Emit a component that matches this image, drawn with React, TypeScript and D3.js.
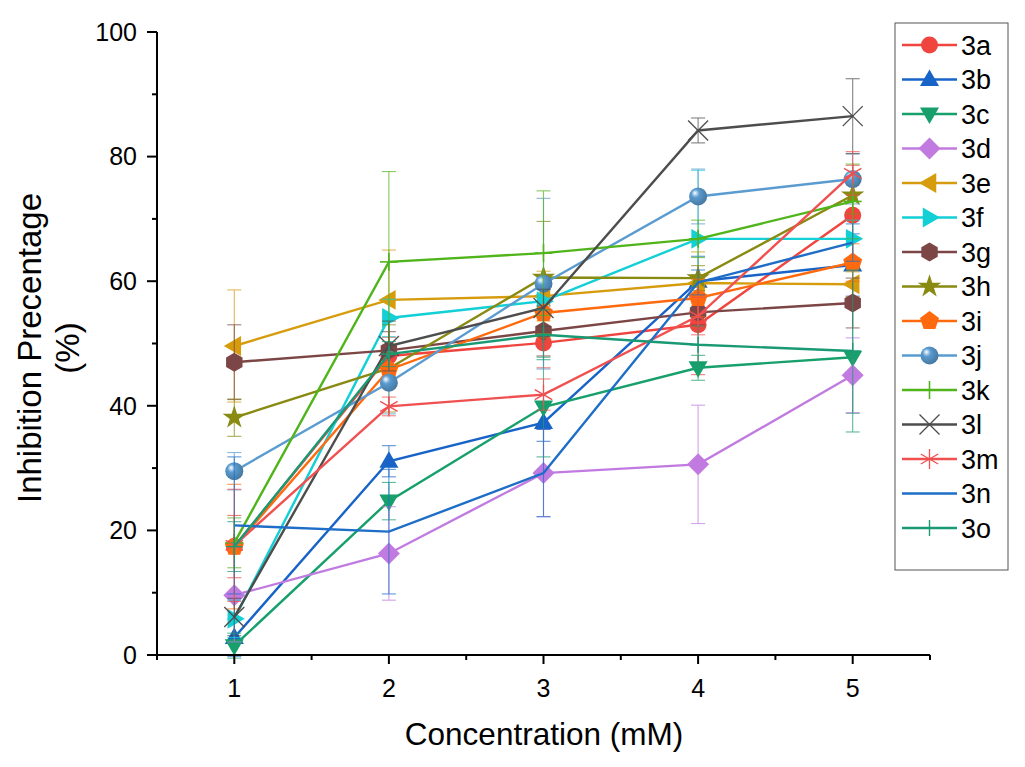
import React from "react";
import * as d3 from "d3";

// ---------- data ----------
const concentrations = [1, 2, 3, 4, 5];
const seriesNames = ["3a", "3b", "3c", "3d", "3e", "3f", "3g", "3h", "3i", "3j", "3k", "3l", "3m", "3n", "3o"];

const values3a = [17.4, 48.0, 50.1, 53.0, 70.6];
const values3b = [2.8, 31.1, 37.3, 60.0, 62.6];
const values3c = [1.5, 24.7, 39.8, 46.1, 47.8];
const values3d = [9.6, 16.3, 29.2, 30.6, 44.9];
const values3e = [49.6, 57.0, 57.6, 59.7, 59.5];
const values3f = [5.8, 54.1, 56.8, 66.8, 66.8];
const values3g = [47.0, 48.9, 52.0, 55.0, 56.5];
const values3h = [38.1, 46.0, 60.6, 60.5, 73.8];
const values3i = [17.4, 45.8, 54.9, 57.3, 63.0];
const values3j = [29.5, 43.7, 59.6, 73.6, 76.4];
const values3k = [18.0, 63.1, 64.5, 66.8, 72.8];
const values3l = [6.1, 49.6, 55.7, 84.2, 86.5];
const values3m = [17.6, 39.9, 41.8, 54.4, 77.3];
const values3n = [20.8, 19.8, 29.2, 59.8, 66.2];
const values3o = [17.4, 48.3, 51.4, 49.8, 48.8];

const err3a = [5, 3, 4, 8, 8];
const err3b = [3, 2.5, 3, 4, 5];
const err3c = [2, 3, 8, 2, 9];
const err3d = [7.5, 7.5, 7, 9.5, 6];
const err3e = [9, 8, 4, 5, 2];
const err3f = [3, 3, 2, 11, 3];
const err3g = [6, 3, 4, 2, 4];
const err3h = [3, 7, 9, 2, 3];
const err3i = [10, 2.5, 4, 3, 3];
const err3j = [3, 5, 13.7, 4.4, 4];
const err3k = [4, 14.5, 10, 3, 6];
const err3l = [3, 4, 3, 2, 6];
const err3m = [9, 1.5, 2.5, 3, 3.5];
const err3n = [11, 10, 7, 2, 3];
const err3o = [4, 2, 4, 3, 13];

const yTicks = [0, 20, 40, 60, 80, 100];
const yMinorTicks = [10, 30, 50, 70, 90];
const xTicks = [1, 2, 3, 4, 5];
const xMinorTicks = [0.5, 1.5, 2.5, 3.5, 4.5, 5.5];

const colors = [
  "#F0453F", "#1763C7", "#17A06B", "#C17BE0", "#D69C0E",
  "#13CFD6", "#7D4646", "#888A12", "#FF6A0E", "#5A9BD0",
  "#50B41B", "#4D4D4D", "#F05050", "#1E6EC8", "#1A9A74",
];
const markers = [
  "circle", "triUp", "triDown", "diamond", "triLeft",
  "triRight", "hexagon", "star", "pentagon", "sphere",
  "plus", "cross", "asterisk", "none", "plusSmall",
];

const allValues = [values3a, values3b, values3c, values3d, values3e, values3f, values3g, values3h, values3i, values3j, values3k, values3l, values3m, values3n, values3o];
const allErrors = [err3a, err3b, err3c, err3d, err3e, err3f, err3g, err3h, err3i, err3j, err3k, err3l, err3m, err3n, err3o];

const series = seriesNames.map((name, i) => ({
  name,
  color: colors[i],
  marker: markers[i],
  points: concentrations.map((x, j) => ({ x, y: allValues[i][j], e: allErrors[i][j] })),
}));

// ---------- layout ----------
const W = 1025;
const H = 767;
const FONT = "'Liberation Sans', Arial, Helvetica, sans-serif";
const x = d3.scaleLinear().domain([0.5, 5.5]).range([157, 930]);
const y = d3.scaleLinear().domain([0, 100]).range([655, 32]);

function polygon(cx: number, cy: number, r: number, n: number, rot: number) {
  const pts: string[] = [];
  for (let k = 0; k < n; k++) {
    const a = rot + (k * 2 * Math.PI) / n;
    pts.push(`${cx + r * Math.cos(a)},${cy + r * Math.sin(a)}`);
  }
  return pts.join(" ");
}

function Marker({ type, cx, cy, color, gid }: { type: string; cx: number; cy: number; color: string; gid: string }) {
  switch (type) {
    case "circle":
      return <circle cx={cx} cy={cy} r={8.5} fill={color} />;
    case "sphere":
      return <circle cx={cx} cy={cy} r={9} fill={`url(#${gid})`} />;
    case "triUp":
      return <polygon points={polygon(cx, cy + 1, 11, 3, -Math.PI / 2)} fill={color} />;
    case "triDown":
      return <polygon points={polygon(cx, cy - 1, 11, 3, Math.PI / 2)} fill={color} />;
    case "triLeft":
      return <polygon points={polygon(cx + 1, cy, 11.5, 3, Math.PI)} fill={color} />;
    case "triRight":
      return <polygon points={polygon(cx - 1, cy, 11.5, 3, 0)} fill={color} />;
    case "diamond":
      return <polygon points={polygon(cx, cy, 11, 4, 0)} fill={color} />;
    case "hexagon":
      return <polygon points={polygon(cx, cy, 9.5, 6, Math.PI / 2)} fill={color} />;
    case "pentagon":
      return <polygon points={polygon(cx, cy, 10, 5, -Math.PI / 2)} fill={color} />;
    case "star": {
      const p = d3.symbol().type(d3.symbolStar).size(170)();
      return <path d={p || ""} transform={`translate(${cx},${cy})`} fill={color} />;
    }
    case "plus":
      return (
        <g stroke={color} strokeWidth={1.6}>
          <line x1={cx} y1={cy - 9} x2={cx} y2={cy + 9} />
          <line x1={cx - 9} y1={cy} x2={cx + 9} y2={cy} />
        </g>
      );
    case "plusSmall":
      return (
        <g stroke={color} strokeWidth={1.4}>
          <line x1={cx} y1={cy - 8} x2={cx} y2={cy + 8} />
          <line x1={cx - 8} y1={cy} x2={cx + 8} y2={cy} />
        </g>
      );
    case "cross":
      return (
        <g stroke={color} strokeWidth={1.3}>
          <line x1={cx - 10} y1={cy - 10} x2={cx + 10} y2={cy + 10} />
          <line x1={cx - 10} y1={cy + 10} x2={cx + 10} y2={cy - 10} />
        </g>
      );
    case "asterisk":
      return (
        <g stroke={color} strokeWidth={1.3}>
          <line x1={cx} y1={cy - 10} x2={cx} y2={cy + 10} />
          <line x1={cx - 8.7} y1={cy - 5} x2={cx + 8.7} y2={cy + 5} />
          <line x1={cx - 8.7} y1={cy + 5} x2={cx + 8.7} y2={cy - 5} />
        </g>
      );
    default:
      return null;
  }
}

export default function App() {
  const line = d3
    .line<{ x: number; y: number }>()
    .x((d) => x(d.x))
    .y((d) => y(d.y));

  const legendX = 895;
  const legendY = 23;
  const legendW = 113;
  const legendH = 547;
  const rowY0 = 45;
  const rowStep = 34.5;

  return (
    <div style={{ position: "absolute", left: 0, top: 0, width: W, height: H, background: "#fff" }}>
      <svg width={W} height={H} viewBox={`0 0 ${W} ${H}`} style={{ display: "block" }}>
        <defs>
          {series.map((s, i) => (
            <radialGradient key={i} id={`sph${i}`} cx="0.4" cy="0.4" r="0.65" fx="0.32" fy="0.3">
              <stop offset="0" stopColor="#ffffff" />
              <stop offset="0.35" stopColor={s.color} />
              <stop offset="1" stopColor={d3.color(s.color)!.darker(0.8).formatHex()} />
            </radialGradient>
          ))}
        </defs>
        <rect x={0} y={0} width={W} height={H} fill="#fff" />

        {/* series */}
        {series.map((s, i) => (
          <g key={s.name}>
            <g stroke={s.color} strokeWidth={1.1} opacity={0.7}>
              {s.points.map((p, j) => (
                <g key={j}>
                  <line x1={x(p.x)} x2={x(p.x)} y1={y(p.y - p.e)} y2={y(p.y + p.e)} />
                  <line x1={x(p.x) - 7} x2={x(p.x) + 7} y1={y(p.y - p.e)} y2={y(p.y - p.e)} />
                  <line x1={x(p.x) - 7} x2={x(p.x) + 7} y1={y(p.y + p.e)} y2={y(p.y + p.e)} />
                </g>
              ))}
            </g>
            <path d={line(s.points) || ""} fill="none" stroke={s.color} strokeWidth={2.4} />
            {s.points.map((p, j) => (
              <Marker key={j} type={s.marker} cx={x(p.x)} cy={y(p.y)} color={s.color} gid={`sph${i}`} />
            ))}
          </g>
        ))}

        {/* axes */}
        <g stroke="#000" strokeWidth={2} fill="none">
          <line x1={x(0.5)} x2={x(5.5)} y1={y(0)} y2={y(0)} />
          <line x1={x(0.5)} x2={x(0.5)} y1={y(0) + 1} y2={y(100)} />
          {yTicks.map((t) => (
            <line key={`yt${t}`} x1={x(0.5) - 10} x2={x(0.5)} y1={y(t)} y2={y(t)} />
          ))}
          {yMinorTicks.map((t) => (
            <line key={`ym${t}`} x1={x(0.5) - 5} x2={x(0.5)} y1={y(t)} y2={y(t)} />
          ))}
          {xTicks.map((t) => (
            <line key={`xt${t}`} x1={x(t)} x2={x(t)} y1={y(0)} y2={y(0) + 9} />
          ))}
          {xMinorTicks.map((t) => (
            <line key={`xm${t}`} x1={x(t)} x2={x(t)} y1={y(0)} y2={y(0) + 5} />
          ))}
        </g>
        <g fontFamily={FONT} fontSize={25} fill="#000">
          {yTicks.map((t) => (
            <text key={`yl${t}`} x={x(0.5) - 20} y={y(t)} dy="0.35em" textAnchor="end">
              {t}
            </text>
          ))}
          {xTicks.map((t) => (
            <text key={`xl${t}`} x={x(t)} y={697} textAnchor="middle">
              {t}
            </text>
          ))}
        </g>
        <text x={544} y={745} fontFamily={FONT} fontSize={31.5} textAnchor="middle" fill="#000">
          Concentration (mM)
        </text>
        <g fontFamily={FONT} fontSize={33} fill="#000" textAnchor="middle">
          <text transform={`translate(41,348) rotate(-90)`}>Inhibition Precentage</text>
          <text transform={`translate(79,348) rotate(-90)`}>(%)</text>
        </g>

        {/* legend */}
        <rect x={legendX} y={legendY} width={legendW} height={legendH} fill="#fff" stroke="#555" strokeWidth={1} />
        {series.map((s, i) => {
          const cy = rowY0 + i * rowStep;
          return (
            <g key={`lg${s.name}`}>
              <line x1={902} x2={957} y1={cy} y2={cy} stroke={s.color} strokeWidth={2.4} />
              <Marker type={s.marker} cx={929.5} cy={cy} color={s.color} gid={`sph${i}`} />
              <text x={961} y={cy} dy="0.36em" fontFamily={FONT} fontSize={27} fill="#000">
                {s.name}
              </text>
            </g>
          );
        })}
      </svg>
    </div>
  );
}
